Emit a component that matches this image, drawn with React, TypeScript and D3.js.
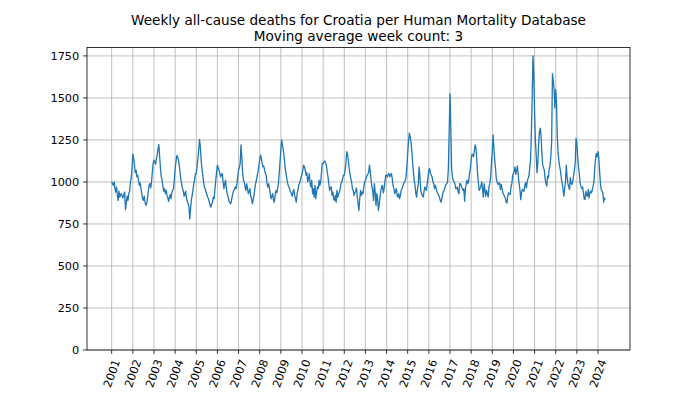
import * as d3 from 'd3'

const TITLE = 'Weekly all-cause deaths for Croatia per Human Mortality Database'
const SUBTITLE = 'Moving average week count: 3'

const YEAR_TICKS = d3.range(2001, 2025)
const DEATH_TICKS = [0, 250, 500, 750, 1000, 1250, 1500, 1750]

// fortnightly readings of the 3-week moving average, one array per year
const y2001 = [1000, 990, 980, 1000, 960, 940, 970, 920, 890, 945, 910, 925, 930, 915, 905, 925, 940, 835, 880, 915, 890, 930, 945, 1000, 1020, 1080]
const y2002 = [1165, 1140, 1100, 1055, 1070, 1030, 1040, 1010, 980, 995, 960, 930, 900, 890, 915, 880, 860, 870, 900, 945, 980, 990, 965, 1000, 1060, 1110]
const y2003 = [1130, 1120, 1105, 1140, 1160, 1200, 1222, 1150, 1080, 1030, 1010, 970, 945, 960, 930, 950, 920, 905, 885, 910, 925, 900, 937, 950, 960, 1010]
const y2004 = [1074, 1120, 1157, 1150, 1130, 1104, 1060, 1014, 990, 960, 950, 915, 930, 945, 900, 885, 870, 855, 780, 840, 895, 920, 955, 990, 1014, 1050]
const y2005 = [1050, 1094, 1140, 1190, 1253, 1210, 1130, 1080, 1040, 1000, 970, 960, 940, 925, 910, 900, 880, 860, 850, 870, 880, 910, 900, 960, 1010, 1060]
const y2006 = [1100, 1085, 1070, 1050, 1030, 1045, 1050, 1000, 960, 990, 1010, 960, 930, 915, 890, 880, 870, 880, 910, 930, 950, 955, 970, 960, 990, 1030]
const y2007 = [1070, 1085, 1110, 1220, 1150, 1060, 1010, 1000, 970, 950, 990, 960, 930, 945, 960, 915, 900, 870, 895, 920, 960, 990, 1010, 1040, 1060, 1100]
const y2008 = [1130, 1160, 1140, 1110, 1090, 1095, 1070, 1050, 1040, 990, 970, 990, 960, 930, 900, 915, 930, 890, 880, 920, 950, 935, 960, 990, 1050, 1120]
const y2009 = [1190, 1250, 1220, 1190, 1150, 1100, 1060, 1030, 1000, 980, 970, 955, 940, 930, 915, 940, 955, 920, 900, 880, 930, 950, 985, 990, 1010, 1030]
const y2010 = [1050, 1070, 1100, 1090, 1070, 1040, 1055, 1000, 1020, 1050, 990, 970, 1010, 930, 960, 910, 980, 900, 940, 970, 960, 1010, 980, 1000, 1060, 1110]
const y2011 = [1110, 1120, 1125, 1115, 1100, 1060, 1030, 990, 950, 965, 970, 920, 940, 900, 890, 920, 880, 950, 910, 930, 940, 960, 990, 1000, 1020, 1040]
const y2012 = [1040, 1070, 1110, 1180, 1165, 1130, 1080, 1050, 1020, 1000, 960, 950, 920, 935, 945, 965, 910, 870, 830, 900, 950, 920, 940, 930, 970, 1000]
const y2013 = [1010, 1025, 1040, 1045, 1060, 1100, 1060, 1010, 970, 950, 890, 990, 940, 860, 930, 900, 830, 870, 910, 950, 970, 980, 935, 960, 1000, 1040]
const y2014 = [1040, 1030, 1045, 1050, 1030, 1040, 1050, 1020, 980, 960, 930, 945, 960, 920, 910, 930, 900, 920, 950, 960, 975, 990, 1000, 1010, 1030, 1090]
const y2015 = [1170, 1240, 1290, 1270, 1240, 1190, 1120, 1060, 1010, 980, 930, 910, 960, 990, 1090, 1030, 950, 930, 920, 910, 940, 970, 960, 950, 990, 1030]
const y2016 = [1070, 1080, 1050, 1040, 1030, 1000, 990, 960, 980, 960, 940, 930, 920, 910, 890, 880, 900, 930, 945, 950, 970, 985, 990, 1000, 1080, 1300]
const y2017 = [1525, 1330, 1080, 1030, 1010, 1000, 990, 960, 960, 970, 940, 930, 990, 990, 975, 960, 950, 960, 885, 960, 990, 1010, 990, 1010, 1050, 1080]
const y2018 = [1130, 1165, 1160, 1150, 1190, 1220, 1200, 1130, 1040, 990, 950, 960, 975, 1000, 960, 910, 990, 950, 915, 950, 930, 910, 975, 990, 1030, 1110]
const y2019 = [1180, 1280, 1200, 1130, 1080, 1015, 1000, 985, 990, 995, 955, 985, 960, 935, 925, 915, 905, 880, 875, 915, 935, 930, 925, 970, 990, 1035]
const y2020 = [1050, 1065, 1090, 1045, 1070, 1095, 1035, 990, 955, 895, 935, 955, 950, 945, 980, 995, 965, 1005, 1020, 1035, 1080, 1130, 1270, 1485, 1750, 1640]
const y2021 = [1420, 1250, 1160, 1055, 1110, 1230, 1300, 1320, 1270, 1170, 1100, 1085, 1070, 1020, 990, 975, 1035, 1025, 1080, 1100, 1150, 1240, 1645, 1600, 1550, 1440]
const y2022 = [1550, 1470, 1260, 1170, 1120, 1090, 1060, 1020, 990, 955, 915, 960, 1000, 1100, 1030, 990, 970, 955, 1025, 990, 985, 1005, 1040, 1070, 1110, 1260]
const y2023 = [1230, 1150, 1090, 1050, 995, 975, 960, 970, 940, 900, 895, 945, 920, 915, 955, 905, 935, 945, 935, 955, 975, 1000, 1080, 1140, 1170, 1150]
const y2024 = [1180, 1140, 1060, 990, 955, 945, 935, 880, 905, 895]

const BY_YEAR: [number, number[]][] = [
  [2001, y2001], [2002, y2002], [2003, y2003], [2004, y2004], [2005, y2005],
  [2006, y2006], [2007, y2007], [2008, y2008], [2009, y2009], [2010, y2010],
  [2011, y2011], [2012, y2012], [2013, y2013], [2014, y2014], [2015, y2015],
  [2016, y2016], [2017, y2017], [2018, y2018], [2019, y2019], [2020, y2020],
  [2021, y2021], [2022, y2022], [2023, y2023], [2024, y2024],
]

const WIDTH = 700
const HEIGHT = 394
const PLOT = { left: 87, right: 630, top: 47.5, bottom: 350 }
const FONT = 'DejaVu Sans, sans-serif'
const TICK_FONT = 11.3
const TITLE_FONT = 13.6

export default function App() {
  const points: [number, number][] = BY_YEAR.flatMap(([year, vals]) =>
    vals.map((v, i) => [year + i / 26, v] as [number, number])
  )

  // matplotlib-like 5% margin on x, y from 0
  const xMin = points[0][0]
  const xMax = points[points.length - 1][0]
  const pad = (xMax - xMin) * 0.05
  const x = d3.scaleLinear().domain([xMin - pad, xMax + pad]).range([PLOT.left, PLOT.right])
  const y = d3.scaleLinear().domain([0, 1800]).range([PLOT.bottom, PLOT.top])

  const line = d3.line<[number, number]>()
    .x(d => x(d[0]))
    .y(d => y(d[1]))

  const midX = (PLOT.left + PLOT.right) / 2

  return (
    <svg
      width={WIDTH}
      height={HEIGHT}
      style={{ position: 'absolute', left: 0, top: 0, background: '#fff' }}
      fontFamily={FONT}
    >
      <rect x={0} y={0} width={WIDTH} height={HEIGHT} fill="#fff" />

      {/* grid */}
      {YEAR_TICKS.map(t => (
        <line key={`gx-${t}`} x1={x(t)} x2={x(t)} y1={PLOT.top} y2={PLOT.bottom} stroke="#b0b0b0" strokeWidth={0.8} />
      ))}
      {DEATH_TICKS.map(t => (
        <line key={`gy-${t}`} x1={PLOT.left} x2={PLOT.right} y1={y(t)} y2={y(t)} stroke="#b0b0b0" strokeWidth={0.8} />
      ))}

      <path d={line(points) ?? ''} fill="none" stroke="#1f77b4" strokeWidth={1.3} strokeLinejoin="round" />

      {/* spines */}
      <rect
        x={PLOT.left}
        y={PLOT.top}
        width={PLOT.right - PLOT.left}
        height={PLOT.bottom - PLOT.top}
        fill="none"
        stroke="#000"
        strokeWidth={0.8}
      />

      {/* y axis */}
      {DEATH_TICKS.map(t => (
        <g key={`yt-${t}`} transform={`translate(${PLOT.left}, ${y(t)})`}>
          <line x1={-3.9} x2={0} stroke="#000" strokeWidth={0.8} />
          <text x={-7.8} dy="0.35em" textAnchor="end" fontSize={TICK_FONT} fill="#000">{t}</text>
        </g>
      ))}

      {/* x axis */}
      {YEAR_TICKS.map(t => (
        <g key={`xt-${t}`}>
          <line x1={x(t)} x2={x(t)} y1={PLOT.bottom} y2={PLOT.bottom + 3.9} stroke="#000" strokeWidth={0.8} />
          <text
            transform={`translate(${x(t)}, ${PLOT.bottom + 23.5}) rotate(-70)`}
            textAnchor="middle"
            dy="0.35em"
            fontSize={TICK_FONT}
            fill="#000"
          >
            {t}
          </text>
        </g>
      ))}

      <text x={midX} y={24.5} textAnchor="middle" fontSize={TITLE_FONT} fill="#000">{TITLE}</text>
      <text x={midX} y={40.5} textAnchor="middle" fontSize={TITLE_FONT} fill="#000">{SUBTITLE}</text>
    </svg>
  )
}
